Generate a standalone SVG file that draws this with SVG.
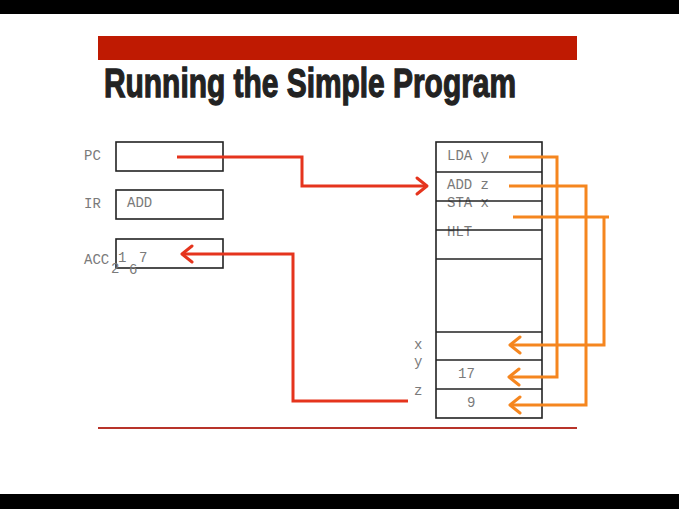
<svg xmlns="http://www.w3.org/2000/svg" width="679" height="509" viewBox="0 0 679 509">
<style>
.box{fill:#fff;stroke:#222;stroke-width:1.6}
.mono{font-family:"Liberation Mono","DejaVu Sans Mono",monospace;font-size:14px;fill:#7a7a7a}
.red{fill:none;stroke:#e5341d;stroke-width:3;stroke-linejoin:miter}
.org{fill:none;stroke:#f5861f;stroke-width:3}
.ah{fill:none;stroke-width:3;stroke-linecap:round;stroke-linejoin:round}
</style>
<rect x="0" y="0" width="679" height="509" fill="#fff"/>
<rect x="0" y="0" width="679" height="14" fill="#000"/>
<rect x="0" y="494" width="679" height="15" fill="#000"/>
<rect x="98" y="36" width="479" height="24" fill="#bf1a02"/>
<text x="104" y="97" font-family="Liberation Sans, Arial, sans-serif" font-weight="bold" font-size="41" fill="#222" stroke="#222" stroke-width="1.3" textLength="412" lengthAdjust="spacingAndGlyphs">Running the Simple Program</text>
<line x1="98" y1="428" x2="577" y2="428" stroke="#b8342a" stroke-width="2"/>

<g id="pc">
<rect class="box" x="116" y="142" width="107" height="29"/>
<text class="mono" x="84" y="160">PC</text>
</g>
<g id="ir">
<rect class="box" x="116" y="190" width="107" height="29"/>
<text class="mono" x="84" y="208">IR</text>
<text class="mono" x="127" y="207">ADD</text>
</g>
<g id="acc">
<rect class="box" x="116" y="239" width="107" height="29"/>
<text class="mono" x="84" y="264">ACC</text>
<text class="mono" x="118" y="262">1</text>
<text class="mono" x="139" y="262">7</text>
<text class="mono" x="111" y="273">2</text>
<text class="mono" x="129" y="274">6</text>
</g>
<g id="memory">
<rect class="box" x="436" y="142" width="106" height="276"/>
<text class="mono" x="447" y="160">LDA y</text>
<text class="mono" x="447" y="189">ADD z</text>
<text class="mono" x="447" y="207">STA x</text>
<text class="mono" x="447" y="236">HLT</text>
<line class="box" x1="436" y1="172" x2="542" y2="172"/>
<line class="box" x1="436" y1="201" x2="542" y2="201"/>
<line class="box" x1="436" y1="230" x2="542" y2="230"/>
<line class="box" x1="436" y1="259" x2="542" y2="259"/>
<line class="box" x1="436" y1="332" x2="542" y2="332"/>
<line class="box" x1="436" y1="360" x2="542" y2="360"/>
<line class="box" x1="436" y1="389" x2="542" y2="389"/>
<text class="mono" x="458" y="378">17</text>
<text class="mono" x="467" y="407">9</text>
<text class="mono" x="414" y="349">x</text>
<text class="mono" x="414" y="366">y</text>
<text class="mono" x="414" y="395">z</text>
</g>
<g id="connectors">
<polyline class="red" points="177,157 302,157 302,186 426,186"/>
<polyline class="ah" stroke="#e5341d" points="417,178 427,186 417,194"/>
<polyline class="red" points="408,401 293,401 293,254 183,254"/>
<polyline class="ah" stroke="#e5341d" points="192,246 182,254 192,262"/>
<polyline class="org" points="509,157 557,157 557,377 510,377"/>
<polyline class="ah" stroke="#f5861f" points="519,369 509,377 519,385"/>
<polyline class="org" points="509,186 586,186 586,405 511,405"/>
<polyline class="ah" stroke="#f5861f" points="520,397 510,405 520,413"/>
<polyline class="org" points="513,217 609,217"/>
<polyline class="org" points="604,217 604,345 511,345"/>
<polyline class="ah" stroke="#f5861f" points="520,337 510,345 520,353"/>
</g>
</svg>
